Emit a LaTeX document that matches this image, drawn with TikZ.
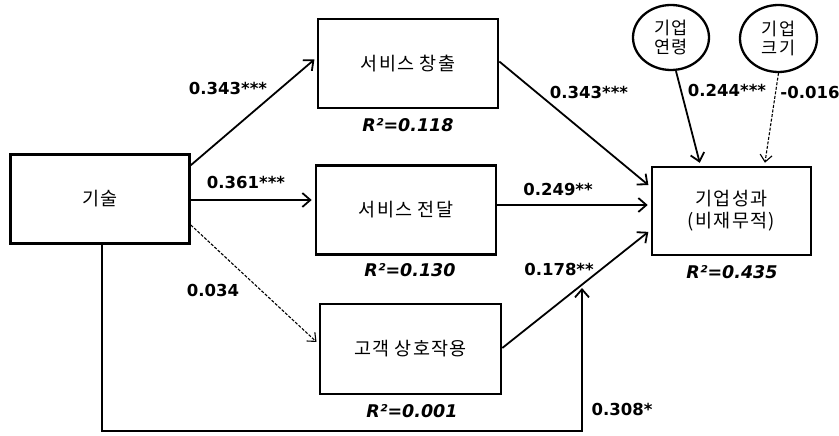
\documentclass[tikz,border=0pt]{standalone}
\usepackage{fontspec}
\usepackage{tikz}
\usetikzlibrary{arrows.meta}
\usetikzlibrary{shapes.geometric}
\setmainfont{DejaVu Sans}
\newfontfamily\kor[LetterSpace=7]{Noto Sans CJK KR}
\tikzset{
  box/.style={draw, line width=2.6pt, minimum width=#1, minimum height=89pt, font=\kor\fontsize{18.5}{22}\selectfont, inner sep=0pt},
  box/.default=180pt,
  ctrl/.style={draw, ellipse, line width=2.3pt, inner sep=0pt, font=\kor\fontsize{17.5}{19}\selectfont, align=center},
  arr/.style={line width=1.8pt, -{Straight Barb[length=8pt,width=14pt,line width=1.8pt]}, shorten >=3pt},
  darr/.style={line width=1.1pt, dash pattern=on 3pt off 1.6pt, -{Straight Barb[length=7pt,width=12pt,line width=1.1pt]}, shorten >=3pt},
  coef/.style={font=\bfseries\fontsize{16.5}{18}\selectfont, inner sep=0pt},
  rsq/.style={font=\bfseries\itshape\fontsize{17.5}{18}\selectfont, inner sep=0pt}
}
\begin{document}
\begin{tikzpicture}[x=1pt, y=-1pt]
            \useasboundingbox (0,0) rectangle (839,436);
            % Boxes
            \node[box=179pt]                         (tech)     at (100.0, 199.0) {기술};
            \node[box]                               (create)   at (408.0,  63.5) {서비스 창출};
            \node[box]                               (deliver)  at (406.0, 210.0) {서비스 전달};
            \node[box=181pt, minimum height=90pt]    (interact) at (410.5, 349.0) {고객 상호작용};
            \node[box=159pt, minimum height=88pt, align=center] (perf) at (731.5, 211.0) {기업성과\\(비재무적)};
            % Control variables
            \node[ctrl, minimum width=76pt, minimum height=65pt] (age)  at (671.0, 37.5) {기업\\연령};
            \node[ctrl, minimum width=77pt, minimum height=67pt] (size) at (778.5, 38.5) {기업\\크기};
            % Paths from technology
            \draw[arr]  ([yshift=-12pt]tech.north east) -- ([yshift=6pt]create.west);
            \draw[arr]  ([yshift=-1pt]tech.east)        -- ([yshift=10pt]deliver.west);
            \draw[darr] ([yshift=-26pt]tech.east)       -- ([yshift=5pt]interact.west);
            % Paths to performance
            \draw[arr]  ([yshift=2pt]create.east)       -- ([yshift=24pt]perf.west);
            \draw[arr]  ([yshift=5pt]deliver.east)      -- ([yshift=6pt]perf.west);
            \draw[arr]  ([yshift=1pt]interact.east)     -- ([yshift=-19pt]perf.west);
            \draw[arr]  ([xshift=5pt]age.south)         -- ([xshift=-31pt]perf.north);
            \draw[darr] (size.south)                    -- ([xshift=33pt]perf.north);
            % Direct path
            \coordinate (base) at (582, 431);
            \coordinate (join) at (582, 288);
            \draw[arr, shorten >=0pt] ([xshift=2pt]tech.south) |- (base) -- (join);
            % Coefficients
            \node[coef] (c1) at (228.0,  88.0) {0.343***};
            \node[coef] (c2) at (246.0, 182.0) {0.361***};
            \node[coef] (c3) at (213.0, 290.0) {0.034};
            \node[coef] (c4) at (589.0,  92.0) {0.343***};
            \node[coef] (c5) at (558.0, 189.0) {0.249**};
            \node[coef] (c6) at (559.0, 269.0) {0.178**};
            \node[coef] (c7) at (622.0, 409.0) {0.308*};
            \node[coef] (c8) at (727.0,  90.0) {0.244***};
            \node[coef] (c9) at (810.0,  92.0) {-0.016};
            % Explained variance
            \node[rsq] (r1) at (408.0, 125.0) {R²=0.118};
            \node[rsq] (r2) at (410.0, 270.0) {R²=0.130};
            \node[rsq] (r3) at (412.0, 411.0) {R²=0.001};
            \node[rsq] (r4) at (732.0, 272.0) {R²=0.435};
\end{tikzpicture}
\end{document}
